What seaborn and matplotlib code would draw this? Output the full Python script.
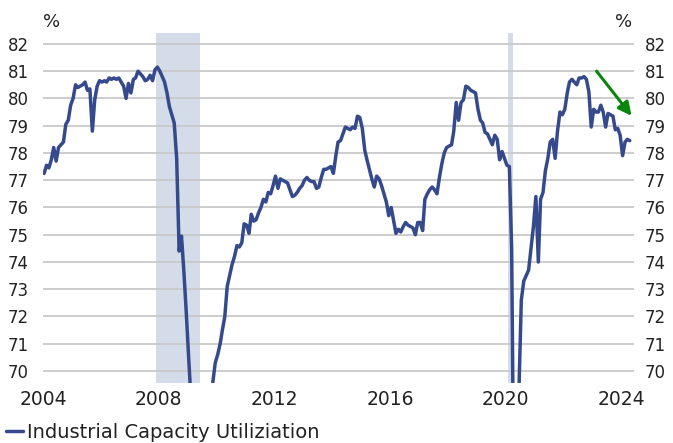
import numpy as np
import pandas as pd
import matplotlib
matplotlib.use("Agg")
import matplotlib.pyplot as plt
import seaborn as sns

# Monthly industrial capacity utilization (%), Jan 2004 - Apr 2024
cu_2004 = [77.25, 77.55, 77.45, 77.75, 78.2, 77.7, 78.2, 78.3, 78.4, 79.05, 79.2, 79.75]
cu_2005 = [80.0, 80.5, 80.4, 80.45, 80.5, 80.6, 80.3, 80.35, 78.8, 79.95, 80.45, 80.65]
cu_2006 = [80.6, 80.65, 80.6, 80.75, 80.7, 80.75, 80.7, 80.75, 80.6, 80.45, 80.0, 80.55]
cu_2007 = [80.2, 80.7, 80.75, 81.0, 80.9, 80.8, 80.65, 80.7, 80.85, 80.65, 81.05, 81.15]
cu_2008 = [81.0, 80.8, 80.6, 80.2, 79.7, 79.4, 79.1, 77.8, 74.4, 74.95, 73.6, 72.1]
cu_2009 = [70.4, 68.8, 67.8, 67.1, 66.7, 66.6, 67.0, 67.6, 68.2, 68.6, 69.6, 70.3]
cu_2010 = [70.6, 71.0, 71.5, 72.0, 73.1, 73.5, 73.9, 74.2, 74.6, 74.55, 74.7, 75.4]
cu_2011 = [75.35, 75.05, 75.75, 75.5, 75.55, 75.8, 76.0, 76.3, 76.2, 76.55, 76.5, 76.8]
cu_2012 = [77.15, 76.7, 77.05, 77.0, 76.95, 76.9, 76.65, 76.4, 76.45, 76.55, 76.7, 76.8]
cu_2013 = [77.0, 77.1, 77.0, 76.95, 76.95, 76.7, 76.75, 77.1, 77.4, 77.4, 77.45, 77.5]
cu_2014 = [77.25, 77.9, 78.4, 78.45, 78.7, 78.95, 78.9, 78.85, 78.95, 78.9, 79.35, 79.3]
cu_2015 = [78.9, 78.1, 77.75, 77.4, 77.05, 76.75, 77.15, 77.05, 76.8, 76.5, 76.2, 75.7]
cu_2016 = [76.0, 75.5, 75.05, 75.2, 75.1, 75.3, 75.45, 75.35, 75.3, 75.25, 75.0, 75.45]
cu_2017 = [75.45, 75.15, 76.3, 76.5, 76.65, 76.75, 76.65, 76.5, 77.1, 77.6, 78.0, 78.2]
cu_2018 = [78.25, 78.3, 78.8, 79.85, 79.2, 79.85, 79.95, 80.45, 80.4, 80.3, 80.25, 80.2]
cu_2019 = [79.6, 79.2, 79.1, 78.75, 78.7, 78.5, 78.3, 78.65, 78.5, 77.75, 78.05, 77.8]
cu_2020 = [77.55, 77.5, 74.5, 64.2, 65.8, 69.3, 72.6, 73.3, 73.5, 73.7, 74.5, 75.3]
cu_2021 = [76.4, 74.0, 76.3, 76.55, 77.35, 77.8, 78.4, 78.5, 77.8, 78.8, 79.5, 79.4]
cu_2022 = [79.6, 80.2, 80.6, 80.7, 80.6, 80.5, 80.75, 80.75, 80.8, 80.7, 80.25, 78.95]
cu_2023 = [79.6, 79.5, 79.5, 79.75, 79.5, 78.95, 79.45, 79.4, 79.35, 78.85, 78.9, 78.65]
cu_2024 = [77.9, 78.4, 78.5, 78.45]

series_label = "Industrial Capacity Utiliziation"
recessions = [("2007-12-01", "2009-06-01"), ("2020-02-01", "2020-04-01")]
y_ticks = list(range(70, 83))
x_tick_years = [2004, 2008, 2012, 2016, 2020, 2024]
arrow_start = ("2023-02-20", 81.0)
arrow_end = ("2024-05-08", 79.36)

values = (cu_2004 + cu_2005 + cu_2006 + cu_2007 + cu_2008 + cu_2009 + cu_2010 +
          cu_2011 + cu_2012 + cu_2013 + cu_2014 + cu_2015 + cu_2016 + cu_2017 +
          cu_2018 + cu_2019 + cu_2020 + cu_2021 + cu_2022 + cu_2023 + cu_2024)
dates = pd.date_range("2004-01-01", periods=len(values), freq="MS") + pd.Timedelta(days=14)
df = pd.DataFrame({"date": dates, "value": values})

sns.set_style("white")
plt.rcParams["font.family"] = ["DejaVu Sans"]

LINE = "#344a8c"
SHADE = "#d3dce8"
GRID = "#c9c9c9"
TXT = "#222222"
FS_Y = 12
FS_X = 13.5
FS_LEG = 14

fig = plt.figure(figsize=(6.73, 4.43), dpi=100)
ax = fig.add_axes([43 / 673, 1 - 383 / 443, (634 - 43) / 673, (383 - 33) / 443])

for a, b in recessions:
    ax.axvspan(pd.Timestamp(a), pd.Timestamp(b), color=SHADE, lw=0, zorder=0)

for yv in y_ticks:
    ax.axhline(yv, color=GRID, lw=1.3, zorder=1)

sns.lineplot(data=df, x="date", y="value", ax=ax, color=LINE, linewidth=2.5,
             label=series_label, zorder=3)

ax.set_ylim(69.56, 82.4)
ax.set_xlim(pd.Timestamp("2004-01-01"), pd.Timestamp("2024-06-07"))
ax.set_yticks(y_ticks)
ax.set_yticklabels([str(v) for v in y_ticks], fontsize=FS_Y, color=TXT)
ax.set_xticks([pd.Timestamp(f"{y}-01-01") for y in x_tick_years])
ax.set_xticklabels([str(y) for y in x_tick_years], fontsize=FS_X, color=TXT)
ax.tick_params(axis="both", length=0)
ax.tick_params(axis="y", pad=10)
ax.tick_params(axis="x", pad=5)
ax.set_xlabel("")
ax.set_ylabel("")
for s in ax.spines.values():
    s.set_visible(False)

ax2 = ax.twinx()
ax2.set_ylim(ax.get_ylim())
ax2.set_yticks(y_ticks)
ax2.set_yticklabels([str(v) for v in y_ticks], fontsize=FS_Y, color=TXT)
ax2.tick_params(axis="y", length=0, pad=8)
for s in ax2.spines.values():
    s.set_visible(False)

ax.annotate("", xy=(pd.Timestamp(arrow_end[0]), arrow_end[1]),
            xytext=(pd.Timestamp(arrow_start[0]), arrow_start[1]),
            arrowprops=dict(arrowstyle="-|>", color="#0a870a", lw=2.2,
                            mutation_scale=20, shrinkA=0, shrinkB=0),
            zorder=4)

fig.text(52 / 673, 1 - 22 / 443, "%", ha="center", va="center", fontsize=13, color=TXT)
fig.text(624 / 673, 1 - 22 / 443, "%", ha="center", va="center", fontsize=13, color=TXT)

leg = ax.legend(loc="center left", bbox_to_anchor=(6 / 673, 1 - 432 / 443),
                bbox_transform=fig.transFigure, frameon=False, fontsize=FS_LEG,
                handlelength=0.85, handletextpad=0.25, borderaxespad=0, borderpad=0)
for t in leg.get_texts():
    t.set_color(TXT)

fig.savefig("out.png", dpi=100)
